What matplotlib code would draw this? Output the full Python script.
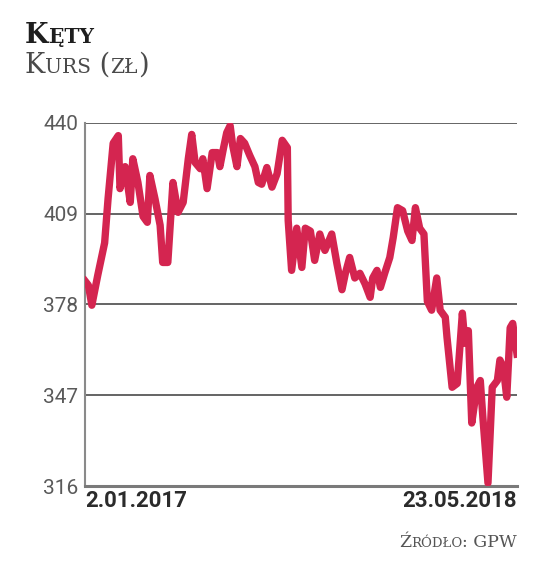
import matplotlib
matplotlib.use("Agg")
import matplotlib.pyplot as plt

# days since 2.01.2017 and closing price (zl)
days = [0, 4, 8, 15, 23, 27, 33, 39, 41, 47,
        53, 56, 62, 68, 73, 76, 82, 88, 91, 97,
        103, 109, 115, 121, 125, 129, 135, 138, 143, 149,
        155, 158, 162, 166, 170, 173, 178, 182, 187, 193,
        199, 203, 207, 213, 219, 225, 231, 237, 238, 242,
        248, 254, 258, 264, 269, 275, 281, 289, 295, 301,
        305, 310, 316, 322, 328, 334, 337, 342, 346, 351,
        357, 361, 366, 372, 378, 383, 387, 392, 397, 401,
        406, 412, 416, 422, 424, 430, 436, 442, 445, 449,
        453, 459, 463, 466, 472, 477, 483, 486, 490, 494,
        498, 501, 506]
price = [386, 384.5, 377.7, 388, 399, 414, 433, 435.6, 417.5, 425,
         412.8, 427.7, 419.6, 408, 406, 422, 414, 405, 392.3, 392.3,
         419.6, 409.4, 412.8, 427.7, 436, 426.4, 424.3, 427.7, 417.5, 429.8,
         429.8, 425, 431, 436.6, 439, 432.2, 425, 434.6, 433, 428.8,
         425, 419.6, 419, 424.7, 418, 422.6, 434, 431.5, 406.6, 389.6,
         404, 390.6, 404, 403, 393, 402, 396.4, 402, 392, 383,
         388.6, 394, 387, 388.6, 385, 380.4, 387, 389.6, 383.8, 388.6,
         394, 400.8, 411, 410, 403, 399.8, 411, 404, 402, 379,
         376, 387, 376, 373.6, 366.8, 349.7, 351, 375, 364.7, 369,
         337.5, 349.7, 352, 339.5, 317, 349.7, 352, 359, 356.5, 346.3,
         370, 371.5, 361]

y_ticks = [316, 347, 378, 409, 440]
x_tick_days = [0, 506]
x_tick_labels = ["2.01.2017", "23.05.2018"]

W, H = 536, 565
fig = plt.figure(figsize=(W / 100, H / 100), dpi=100)
fig.patch.set_facecolor("white")


def fx(px):
    return px / W


def fy(py):
    return 1 - py / H


ax = fig.add_axes([fx(85), fy(486), fx(517) - fx(85), fy(122.7) - fy(486)])
ax.plot(days, price, color="#d42550", lw=5.3, solid_joinstyle="round", zorder=3)

ax.set_xlim(0, 506)
ax.set_ylim(316, 440)
ax.set_yticks(y_ticks)
ax.set_yticklabels([str(v) for v in y_ticks], fontsize=15, color="#5a5a5a", family="Roboto")
ax.tick_params(axis="y", length=0, pad=5)
for v in y_ticks[1:]:
    ax.axhline(v, color="#4a4a4a", lw=1.2, zorder=1)

ax.set_xticks(x_tick_days)
ax.set_xticklabels(x_tick_labels, fontsize=16, fontweight="bold", color="#2b2b2b", family="Roboto")
ax.tick_params(axis="x", length=0, pad=3)
xl = ax.get_xticklabels()
xl[0].set_ha("left")
xl[1].set_ha("right")

for s in ["top", "right"]:
    ax.spines[s].set_visible(False)
ax.spines["left"].set_color("#8a8a8a")
ax.spines["left"].set_linewidth(1.5)
ax.spines["bottom"].set_color("#7a7a7a")
ax.spines["bottom"].set_linewidth(2.2)

renderer = fig.canvas.get_renderer()


def small_caps(x, y, parts, color, weight, align="left"):
    # parts: (text, size) pieces set one after another on a common baseline
    seq = parts if align == "left" else parts[::-1]
    for s, size in seq:
        t = fig.text(x, y, s, fontsize=size, color=color, fontweight=weight,
                     family="DejaVu Serif", ha=align, va="baseline")
        bb = t.get_window_extent(renderer)
        if align == "left":
            x = fig.transFigure.inverted().transform((bb.x1, 0))[0]
        else:
            x = fig.transFigure.inverted().transform((bb.x0, 0))[0]


small_caps(fx(25), fy(43), [("K", 19.5), ("ĘTY", 14.5)], "#1e1e1e", "bold")
small_caps(fx(25), fy(73), [("K", 19.5), ("URS", 14.5), (" (", 19.5), ("ZŁ", 14.5), (")", 19.5)],
           "#4a4a4a", "normal")
small_caps(fx(517), fy(547), [("Ź", 12.5), ("RÓDŁO", 9.5), (": GPW", 12.5)], "#555555", "normal",
           align="right")

fig.savefig("out.png", dpi=100)
